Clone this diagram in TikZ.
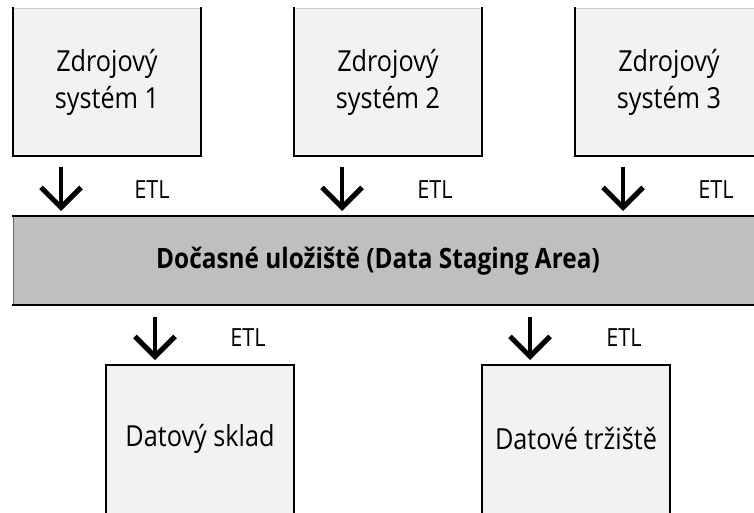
\documentclass[tikz,border=0pt]{standalone}
\usepackage{fontspec}
\setmainfont{Open Sans}[FakeStretch=0.87]
\usetikzlibrary{arrows.meta}

\definecolor{boxfill}{HTML}{F2F2F2}
\definecolor{barfill}{HTML}{BFBFBF}

\tikzset{
  panel/.style={rectangle, inner sep=0pt, outer sep=0pt, fill=boxfill,
    draw=black!20, line width=0.8pt, minimum width=188pt, minimum height=148pt,
    anchor=north west, align=center, font=\fontsize{29}{37}\selectfont},
  stagebar/.style={rectangle, inner sep=0pt, outer sep=0pt, fill=barfill,
    draw=black!60, line width=0.8pt, minimum width=760pt, minimum height=89pt,
    anchor=north west},
  bartitle/.style={inner sep=0pt, font=\bfseries\fontsize{28}{34}\selectfont},
  rim/.style={draw=black, line width=2.6pt, line cap=rect},
  etlarrow/.style={draw=black, line width=4pt,
    -{Straight Barb[length=20pt, width=40pt, line width=5pt]}},
  etllabel/.style={font=\fontsize{25}{30}\selectfont, inner sep=0pt}
}

\begin{document}
\begin{tikzpicture}[x=1pt, y=-1pt]
  \clip (0,0) rectangle (754,513);
  \fill[white] (0,0) rectangle (754,513);

  % source systems
  \node[panel] (s1) at (13,8)  {Zdrojový\\systém 1};
  \node[panel] (s2) at (294,8) {Zdrojový\\systém 2};
  \node[panel] (s3) at (575,8) {Zdrojový\\systém 3};
  \foreach \n in {s1,s2,s3}
    \draw[rim] (\n.north west) -- (\n.south west) -- (\n.south east) -- (\n.north east);

  % staging area
  \node[stagebar] (bar) at (13,216) {};
  \draw[rim] (bar.north west) -- (bar.north east);
  \draw[rim] (bar.south west) -- (bar.south east);
  \node[bartitle] (bartext) at (378,261) {Dočasné uložiště (Data Staging Area)};

  % targets
  \node[panel] (d1) at (106,365) {Datový sklad};
  \node[panel] (d2) at (482,365) {Datové tržiště};
  \foreach \n in {d1,d2}
    \draw[rim] (\n.south west) -- (\n.north west) -- (\n.north east) -- (\n.south east);

  % arrow columns
  \coordinate (c1) at (61,0);
  \coordinate (c2) at (342,0);
  \coordinate (c3) at (623,0);
  \coordinate (c4) at (155,0);
  \coordinate (c5) at (530,0);

  \draw[etlarrow, shorten <=11pt, shorten >=5pt] (s1.south -| c1) -- (bar.north -| c1);
  \draw[etlarrow, shorten <=11pt, shorten >=5pt] (s2.south -| c2) -- (bar.north -| c2);
  \draw[etlarrow, shorten <=11pt, shorten >=5pt] (s3.south -| c3) -- (bar.north -| c3);
  \draw[etlarrow, shorten <=12pt, shorten >=5pt] (bar.south -| c4) -- (d1.north -| c4);
  \draw[etlarrow, shorten <=12pt, shorten >=5pt] (bar.south -| c5) -- (d2.north -| c5);

  % ETL labels
  \node[etllabel] (e1) at (152,190) {ETL};
  \node[etllabel] (e2) at (435,190) {ETL};
  \node[etllabel] (e3) at (716,190) {ETL};
  \node[etllabel] (e4) at (248,338) {ETL};
  \node[etllabel] (e5) at (624,338) {ETL};
\end{tikzpicture}
\end{document}
